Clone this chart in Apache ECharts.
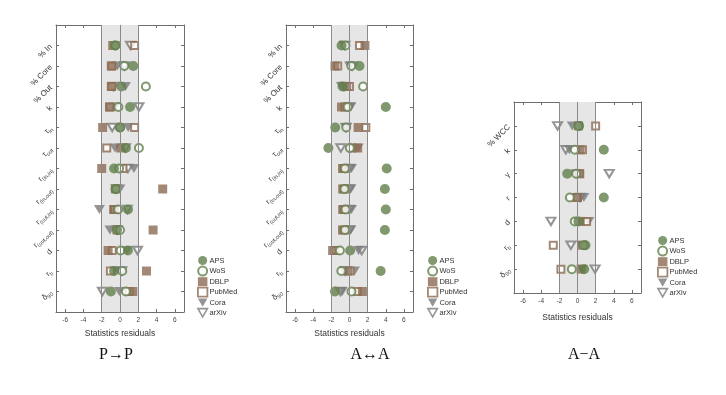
<!DOCTYPE html>
<html><head><meta charset="utf-8">
<script src="https://cdn.jsdelivr.net/npm/echarts@6/dist/echarts.min.js"></script>
<style>html,body{margin:0;padding:0;background:#fff}#c{width:726px;height:395px}</style>
</head><body><div id="c"></div>
<script>
// ---- Data ----
const rowsDirected = ['% In','% Core','% Out','k','τ_in','τ_out','r_(in,in)','r_(in,out)','r_(out,in)','r_(out,out)','d','r_b','δ_90'];
const rowsUndirected = ['% WCC','k','γ','r','d','r_b','δ_90'];
const xTicks = [-6,-4,-2,0,2,4,6];
const seriesNames = ['APS','WoS','DBLP','PubMed','Cora','arXiv'];
const panelTitles = ['P→P','A↔A','A−A'];

// Panel 1: P->P
const p1_APS    = [-0.55, 1.45, 0.15, 1.1, 0.0, 0.65, -0.65, -0.5, 0.87, -0.33, 0.87, -0.65, -1.0];
const p1_WoS    = [-0.5, 0.47, 2.83, -0.18, 0.0, 2.07, -0.1, -0.45, -0.2, 0.0, 0.07, 0.25, 0.65];
const p1_DBLP   = [-0.8, -0.95, -0.95, -1.15, -1.9, 0.07, -2.0, 4.67, -0.7, 3.62, -1.3, 2.9, 1.4];
const p1_PubMed = [1.6, -0.9, -0.9, -1.1, 1.6, -1.45, 0.33, -0.5, -0.6, -0.33, -0.85, -1.05, 1.0];
const p1_Cora   = [-0.5, -0.3, 0.6, -0.55, 0.9, -0.55, 1.52, 0.0, -2.25, -1.1, 0.8, -0.6, -0.07];
const p1_arXiv  = [1.15, 0.5, -0.7, 2.07, -0.85, 0.6, 0.87, -0.4, 0.8, -0.3, 1.92, 0.2, -1.92];

// Panel 2: A<->A
const p2_APS    = [-0.88, 1.1, -0.77, 4.0, -1.57, -2.33, 4.1, 3.9, 4.0, 3.9, 0.07, 3.43, -1.6];
const p2_WoS    = [-0.44, 0.2, 1.5, -0.2, -0.36, 0.04, -0.5, -0.55, -0.44, -0.5, -1.06, -0.9, 0.22];
const p2_DBLP   = [1.7, -1.6, -0.3, -0.88, 0.95, 0.9, -0.77, -0.75, -0.75, -0.77, -1.86, -0.2, 1.42];
const p2_PubMed = [1.1, -1.3, 0.0, -0.5, 1.8, 0.3, -0.6, -0.6, -0.6, -0.6, -1.6, 0.04, 0.85];
const p2_Cora   = [-0.6, 0.0, -0.9, 0.15, -0.3, 0.95, 0.22, 0.15, 0.22, 0.15, 1.0, 0.55, -0.8];
const p2_arXiv  = [-0.5, 0.3, -0.6, 0.0, -0.4, -0.95, 0.0, 0.0, 0.0, 0.0, 1.35, -0.5, -1.0];

// Panel 3: A-A
const p3_APS    = [0.18, 2.9, -1.13, 2.9, 0.1, 0.88, 0.73];
const p3_WoS    = [0.1, -0.3, -0.15, -0.84, -0.3, 0.7, -0.62];
const p3_DBLP   = [0.1, 0.3, 0.2, 0.0, 0.3, 0.5, 0.4];
const p3_PubMed = [2.0, 0.55, 0.25, -0.1, 1.0, -2.67, -1.83];
const p3_Cora   = [-0.58, -0.9, -0.2, 0.7, 1.25, 0.44, 0.5];
const p3_arXiv  = [-2.2, -1.28, 3.5, 0.3, -2.93, -0.73, 1.94];

const panels = [
  {rows: rowsDirected, d: {APS:p1_APS, WoS:p1_WoS, DBLP:p1_DBLP, PubMed:p1_PubMed, Cora:p1_Cora, arXiv:p1_arXiv}},
  {rows: rowsDirected, d: {APS:p2_APS, WoS:p2_WoS, DBLP:p2_DBLP, PubMed:p2_PubMed, Cora:p2_Cora, arXiv:p2_arXiv}},
  {rows: rowsUndirected, d: {APS:p3_APS, WoS:p3_WoS, DBLP:p3_DBLP, PubMed:p3_PubMed, Cora:p3_Cora, arXiv:p3_arXiv}}
];

// ---- Layout / style ----
const GREEN = '#627f4b', BROWN = '#8c6c53', GRAY = '#7a7a7a', AX = '#6e6e6e';
const grids = [
  {left: 56, top: 25, width: 128, height: 287},
  {left: 286, top: 25, width: 127, height: 287},
  {left: 514, top: 102, width: 127, height: 191}
];
const nameGaps = [16, 16, 20];
const legendPos = [{left: 192, top: 251}, {left: 422, top: 251}, {left: 652, top: 231}];
const titlePos = [[116, 355], [370, 355], [584, 355]];
const DOWN_TRI = 'path://M0,0L10,0L5,8.7Z';

const styles = {
  APS:    {symbol:'circle', symbolSize:10, itemStyle:{color:GREEN}},
  WoS:    {symbol:'circle', symbolSize:8, itemStyle:{color:'#fff', borderColor:GREEN, borderWidth:2}},
  DBLP:   {symbol:'rect', symbolSize:9, itemStyle:{color:BROWN}},
  PubMed: {symbol:'rect', symbolSize:7, itemStyle:{color:'#fff', borderColor:BROWN, borderWidth:2}},
  Cora:   {symbol:'triangle', symbolSize:[11,9], symbolRotate:180, itemStyle:{color:GRAY}},
  arXiv:  {symbol:'triangle', symbolSize:[9,7.5], symbolRotate:180, itemStyle:{color:'#fff', borderColor:GRAY, borderWidth:2}}
};
const drawOrder = ['arXiv','Cora','PubMed','DBLP','WoS','APS'];

function toRich(label) {
  const i = label.indexOf('_');
  if (i < 0) return '{m|' + label + '}';
  return '{m|' + label.slice(0, i) + '}{s|' + label.slice(i + 1) + '}';
}

const legendData = seriesNames.map(name => {
  if (name === 'Cora') return {name, icon: DOWN_TRI, itemStyle:{color:GRAY}};
  if (name === 'arXiv') return {name, icon: DOWN_TRI, itemStyle:{color:'#fff', borderColor:GRAY, borderWidth:1.6}};
  if (name === 'WoS') return {name, itemStyle:{color:'#fff', borderColor:GREEN, borderWidth:2}};
  if (name === 'PubMed') return {name, itemStyle:{color:'#fff', borderColor:BROWN, borderWidth:1.8}};
  return {name};
});

const xAxis = [], yAxis = [], series = [], legend = [], graphic = [];
panels.forEach((p, gi) => {
  const n = p.rows.length;
  const rowIdx = p.rows.map((_, i) => i + 1);
  xAxis.push({
    type:'value', gridIndex: gi, min:-7, max:7, position:'bottom',
    name:'Statistics residuals', nameLocation:'middle', nameGap: nameGaps[gi],
    nameTextStyle:{fontSize:8.5, color:'#333', fontFamily:'Liberation Sans'},
    axisLine:{show:true, onZero:false, lineStyle:{color:AX}},
    axisTick:{show:true, inside:true, length:3, customValues:xTicks, lineStyle:{color:AX}},
    axisLabel:{customValues:xTicks, fontSize:6.5, color:'#444', margin:5, fontFamily:'Liberation Sans'},
    splitLine:{show:false}
  });
  xAxis.push({
    type:'value', gridIndex: gi, min:-7, max:7, position:'top',
    axisLine:{show:true, onZero:false, lineStyle:{color:AX}},
    axisTick:{show:true, inside:true, length:3, customValues:xTicks, lineStyle:{color:AX}},
    axisLabel:{show:false}, splitLine:{show:false}
  });
  yAxis.push({
    type:'value', gridIndex: gi, min:0, max:n+1, inverse:true, position:'left',
    axisLine:{show:true, onZero:false, lineStyle:{color:AX}},
    axisTick:{show:true, inside:true, length:3, customValues:rowIdx, lineStyle:{color:AX}},
    axisLabel:{customValues:rowIdx, rotate:45, margin:5, color:'#333',
      formatter: v => toRich(p.rows[v - 1] || ''),
      rich:{m:{fontSize:8, color:'#333', fontFamily:'Liberation Sans'},
            s:{fontSize:5.5, color:'#333', fontFamily:'Liberation Sans', padding:[5,0,0,0]}}},
    splitLine:{show:false}
  });
  yAxis.push({
    type:'value', gridIndex: gi, min:0, max:n+1, inverse:true, position:'right',
    axisLine:{show:true, onZero:false, lineStyle:{color:AX}},
    axisTick:{show:true, inside:true, length:3, customValues:rowIdx, lineStyle:{color:AX}},
    axisLabel:{show:false}, splitLine:{show:false}
  });
  // background band and reference lines
  series.push({
    type:'scatter', xAxisIndex: gi*2, yAxisIndex: gi*2, z:1, silent:true,
    data:[[0, 0]], symbolSize:0,
    markArea:{silent:true, itemStyle:{color:'#e6e6e6'}, data:[[{xAxis:-2},{xAxis:2}]]},
    markLine:{silent:true, symbol:'none', label:{show:false},
      lineStyle:{color:'#8a8a8a', type:'solid', width:1},
      data:[{xAxis:-2},{xAxis:0},{xAxis:2}]}
  });
  drawOrder.forEach(name => {
    const s = styles[name];
    series.push(Object.assign({
      type:'scatter', name, xAxisIndex: gi*2, yAxisIndex: gi*2, z:3,
      data: p.d[name].map((v, i) => [v, i + 1])
    }, JSON.parse(JSON.stringify(s)), {symbolRotate: s.symbolRotate || 0}));
  });
  legend.push({
    orient:'vertical', left: legendPos[gi].left, top: legendPos[gi].top,
    data: legendData, itemWidth:9.5, itemHeight:9, itemGap:0.6,
    textStyle:{fontSize:7.5, lineHeight:9, color:'#333', fontFamily:'Liberation Sans', padding:[0,0,0,-3]},
    selectedMode:false
  });
  graphic.push({
    type:'text', x: titlePos[gi][0], y: titlePos[gi][1],
    style:{text: panelTitles[gi], fontSize:16, fontFamily:'Liberation Serif', fill:'#111',
      align:'center', verticalAlign:'middle'}
  });
});

const chart = echarts.init(document.getElementById('c'), null, {renderer:'canvas'});
chart.setOption({
  animation:false, backgroundColor:'#fff',
  grid: grids, xAxis, yAxis, series, legend, graphic
});
</script></body></html>
